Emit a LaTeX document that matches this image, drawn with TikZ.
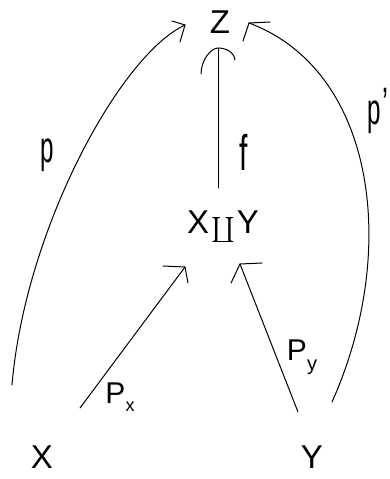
\documentclass[tikz,border=0pt]{standalone}
\usepackage{fontspec}
\usepackage{graphicx}
\setmainfont{Liberation Sans}
\usetikzlibrary{calc}
\begin{document}
\begin{tikzpicture}[x=1pt,y=-1pt,
  conn/.style={line width=1pt, line cap=round, line join=round},
  lbl/.style={inner sep=0pt, anchor=base},
  obj/.style={inner sep=0pt, font=\fontsize{33}{36}\selectfont}]
\useasboundingbox[fill=white] (0,0) rectangle (389,479);

% objects
\node[obj] (Z)  at (220,22)  {Z};
\node[obj] (XY) at (223,227) {X\kern2pt\raisebox{-3pt}{\fontsize{10}{12}\selectfont\scalebox{2.5}{\(\textstyle\coprod\)}}\kern2ptY};
\node[obj] (X)  at (42,457)  {X};
\node[obj] (Y)  at (312,457) {Y};

% connector end points
\coordinate (pS) at (12,385);  \coordinate (pE) at (185,25);
\coordinate (qS) at (332,402); \coordinate (qE) at (249,23);
\coordinate (fS) at (218,188); \coordinate (fE) at (218,48);
\coordinate (aS) at (80,408);  \coordinate (aE) at (185,267);
\coordinate (bS) at (298,412); \coordinate (bE) at (240,264);

% p
\draw[conn] (pS) .. controls (25,230) and (120,55) .. (pE);
\draw[conn] ($(pE)+(-13,-4)$) -- (pE) -- ($(pE)+(-5,17)$);
% p'
\draw[conn] (qS) .. controls (400,250) and (375,70) .. (qE);
\draw[conn] ($(qE)+(21,-1)$) -- (qE) -- ($(qE)+(-6,18)$);
% f
\draw[conn] (fS) -- (fE);
\draw[conn] ($(fE)+(-17,26)$) .. controls ($(fE)+(-17,12)$) and ($(fE)+(-7,0)$) .. (fE)
  .. controls ($(fE)+(8,0)$) and ($(fE)+(16,4)$) .. ($(fE)+(17,12)$);
% P_x
\draw[conn] (aS) -- (aE);
\draw[conn] ($(aE)+(-22,-1)$) -- (aE) -- ($(aE)+(3,16)$);
% P_y
\draw[conn] (bS) -- (bE);
\draw[conn] ($(bE)+(22,-1)$) -- (bE) -- ($(bE)+(-9,19)$);

% labels
\node[lbl, font=\fontsize{44}{44}\selectfont] (lp) at (47,162) {\scalebox{0.55}[1]{p}};
\node[lbl, font=\fontsize{44}{44}\selectfont] (lq) at (378,124) {\scalebox{0.55}[1]{p}\kern1pt\raisebox{6pt}{\scalebox{0.6}[1]{'}}};
\node[lbl, font=\fontsize{50}{50}\selectfont] (lf) at (244,170) {\scalebox{0.6}[1]{f}};
\node[lbl, font=\fontsize{30}{30}\selectfont] (lx) at (120,403) {P\raisebox{-8pt}{\fontsize{18}{18}\selectfont x}};
\node[lbl, font=\fontsize{30}{30}\selectfont] (ly) at (302,360) {P\raisebox{-10pt}{\fontsize{20}{20}\selectfont y}};
\end{tikzpicture}
\end{document}
